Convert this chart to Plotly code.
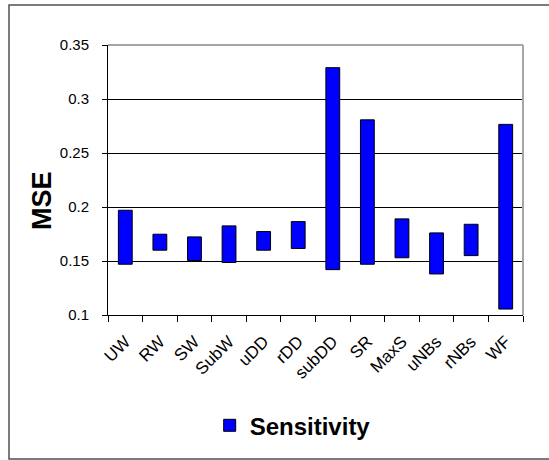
import plotly.graph_objects as go

categories = ["UW", "RW", "SW", "SubW", "uDD", "rDD", "subDD", "SR", "MaxS", "uNBs", "rNBs", "WF"]
mse_low = [0.147, 0.160, 0.1505, 0.1486, 0.160, 0.1616, 0.142, 0.147, 0.153, 0.138, 0.155, 0.1055]
mse_high = [0.197, 0.1748, 0.1723, 0.1825, 0.1773, 0.1865, 0.329, 0.2807, 0.189, 0.176, 0.184, 0.2765]
y_tickvals = [0.1, 0.15, 0.2, 0.25, 0.3, 0.35]
y_ticktext = ["0.1", "0.15", "0.2", "0.25", "0.3", "0.35"]

spans = [h - l for h, l in zip(mse_high, mse_low)]

FONT = "Liberation Sans, Arial, sans-serif"
NARROW = "Liberation Sans Narrow, Arial Narrow, Liberation Sans, Arial, sans-serif"

fig = go.Figure()
fig.add_trace(go.Bar(
    x=categories,
    y=spans,
    base=mse_low,
    name="Sensitivity",
    marker=dict(color="#0000FF", line=dict(color="#000000", width=1)),
))

fig.update_layout(
    width=549, height=460,
    margin=dict(l=108, r=26, t=45, b=145),
    paper_bgcolor="white", plot_bgcolor="white",
    bargap=0.6,
    showlegend=True,
    font=dict(family=FONT, color="#000000"),
    legend=dict(
        orientation="h", x=0.245, xanchor="left", y=-0.41, yanchor="middle",
        font=dict(family=FONT, size=24, color="#000000", weight="bold"),
        itemwidth=30, bgcolor="rgba(0,0,0,0)",
    ),
    xaxis=dict(
        type="category",
        tickson="boundaries",
        ticks="outside", ticklen=6, tickcolor="#000000", tickwidth=1,
        showline=True, linecolor="#000000", linewidth=1,
        showgrid=False,
        tickangle=-45,
        ticklabelstandoff=9,
        tickfont=dict(family=NARROW, size=17, color="#000000"),
    ),
    yaxis=dict(
        range=[0.1, 0.35],
        tickvals=y_tickvals, ticktext=y_ticktext,
        ticks="outside", ticklen=5, tickcolor="#000000", tickwidth=1,
        showline=True, linecolor="#000000", linewidth=1,
        showgrid=True, gridcolor="#000000", gridwidth=1,
        zeroline=False,
        tickfont=dict(family=FONT, size=15, color="#000000"),
        ticklabelstandoff=10,
    ),
    annotations=[
        dict(text="<b>MSE</b>", textangle=-90, xref="paper", yref="paper",
             x=(42 - 108) / 415, y=(315 - 201) / 270, xanchor="center", yanchor="middle",
             showarrow=False, font=dict(family=FONT, size=27, color="#000000")),
    ],
    shapes=[
        dict(type="line", xref="paper", yref="paper", x0=0, x1=1, y0=1, y1=1,
             line=dict(color="#A6A6A6", width=2), layer="above"),
        dict(type="line", xref="paper", yref="paper", x0=1, x1=1, y0=0, y1=1,
             line=dict(color="#A6A6A6", width=2), layer="above"),
        dict(type="rect", xref="paper", yref="paper",
             x0=(9 - 108) / 415, x1=(552 - 108) / 415,
             y0=(315 - 459) / 270, y1=(315 - 5) / 270,
             line=dict(color="#505050", width=1.5), fillcolor="rgba(0,0,0,0)", layer="below"),
    ],
)

fig.write_html("out.html", config={"displayModeBar": False},
               post_script="document.body.style.margin='0';")
